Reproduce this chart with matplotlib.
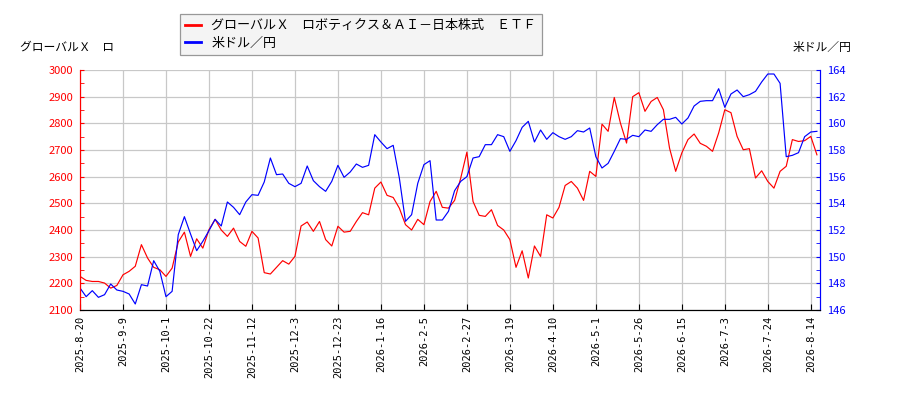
import matplotlib
matplotlib.use("Agg")
import matplotlib.pyplot as plt
import numpy as np
from matplotlib.ticker import MultipleLocator

plt.rcParams['font.family'] = ['Noto Sans CJK JP', 'DejaVu Sans']

# trading-day index of each sample (every 2nd day)
day_index = list(range(0, 241, 2))

etf_price = [
    2226, 2211, 2207, 2207, 2201, 2182, 2192, 2232, 2245, 2264,
    2345, 2295, 2260, 2251, 2226, 2257, 2355, 2392, 2301, 2367,
    2332, 2401, 2440, 2400, 2376, 2407, 2357, 2339, 2395, 2370,
    2240, 2235, 2260, 2285, 2272, 2301, 2415, 2430, 2395, 2432,
    2364, 2340, 2414, 2392, 2395, 2432, 2465, 2457, 2557, 2580,
    2530, 2522, 2482, 2420, 2400, 2440, 2420, 2507, 2545, 2485,
    2482, 2511, 2595, 2692, 2507, 2455, 2451, 2476, 2417, 2400,
    2364, 2260, 2322, 2220, 2340, 2301, 2457, 2445, 2485, 2567,
    2582, 2557, 2511, 2620, 2601, 2797, 2770, 2897, 2801, 2726,
    2900, 2915, 2845, 2882, 2897, 2851, 2707, 2620, 2689, 2739,
    2760, 2725, 2714, 2695, 2764, 2851, 2840, 2751, 2701, 2705,
    2595, 2622, 2582, 2557, 2620, 2639, 2739, 2732, 2735, 2751,
    2682,
]

usdjpy = [
    147.65, 147.0, 147.45, 146.95, 147.15, 147.95, 147.5, 147.4, 147.2, 146.45,
    147.9, 147.8, 149.7, 148.9, 147.0, 147.4, 151.65, 153.0, 151.7, 150.45,
    151.15, 151.95, 152.8, 152.3, 154.1, 153.7, 153.15, 154.1, 154.65, 154.6,
    155.6, 157.4, 156.15, 156.2, 155.5, 155.25, 155.5, 156.8, 155.7, 155.25,
    154.9, 155.65, 156.85, 155.95, 156.35, 156.95, 156.7, 156.85, 159.15, 158.6,
    158.1, 158.35, 155.9, 152.65, 153.15, 155.5, 156.9, 157.2, 152.75, 152.75,
    153.4, 154.95, 155.65, 156.0, 157.4, 157.5, 158.4, 158.4, 159.15, 159.0,
    157.9, 158.7, 159.7, 160.15, 158.6, 159.5, 158.8, 159.3, 159.0, 158.8,
    159.0, 159.45, 159.35, 159.65, 157.5, 156.65, 157.0, 157.9, 158.85, 158.8,
    159.1, 159.0, 159.5, 159.4, 159.9, 160.3, 160.3, 160.45, 159.95, 160.4,
    161.3, 161.65, 161.7, 161.7, 162.6, 161.2, 162.2, 162.5, 162.0, 162.15,
    162.4, 163.1, 163.7, 163.7, 163.0, 157.5, 157.6, 157.8, 159.0, 159.35,
    159.4,
]

tick_days = list(range(0, 239, 14))
tick_labels = [
    '2025-8-20', '2025-9-9', '2025-10-1', '2025-10-22', '2025-11-12',
    '2025-12-3', '2025-12-23', '2026-1-16', '2026-2-5', '2026-2-27',
    '2026-3-19', '2026-4-10', '2026-5-1', '2026-5-26', '2026-6-15',
    '2026-7-3', '2026-7-24', '2026-8-14',
]

fig = plt.figure(figsize=(9, 4), dpi=100)
ax = fig.add_axes([80 / 900, 90 / 400, 740 / 900, 240 / 400])
ax2 = ax.twinx()

l1, = ax.plot(day_index, etf_price, color='#ff0000', lw=0.85)
l2, = ax2.plot(day_index, usdjpy, color='#0000ff', lw=0.85)

ax.set_xlim(0, 241)
ax.set_ylim(2100, 3000)
ax2.set_ylim(146, 164)

ax.yaxis.set_major_locator(MultipleLocator(100))
ax.yaxis.set_minor_locator(MultipleLocator(50))
ax2.yaxis.set_major_locator(MultipleLocator(2))
ax2.yaxis.set_minor_locator(MultipleLocator(1))

ax.set_xticks(tick_days)
ax.set_xticklabels(tick_labels, rotation=90, family='DejaVu Sans Mono', fontsize=7.5)

ax.grid(True, color='#c8c8c8', lw=0.9)
ax.set_axisbelow(True)

ax.tick_params(axis='y', which='both', direction='in', colors='#ff0000',
               labelsize=8, length=3, pad=5)
ax.tick_params(axis='x', direction='in', length=4, pad=4, colors='black')
ax2.tick_params(axis='y', which='both', direction='in', colors='#0000ff',
                labelsize=8, length=3, pad=5)

for a in (ax, ax2):
    a.spines['top'].set_visible(False)
ax.spines['left'].set_color('#ff0000')
ax2.spines['left'].set_color('#ff0000')
ax2.spines['right'].set_color('#0000ff')
ax.spines['right'].set_color('#0000ff')
ax.spines['bottom'].set_color('black')
ax2.spines['bottom'].set_color('black')

fig.text(20 / 900, 1 - 47 / 400, 'グローバルＸ　ロ', fontsize=8.5, va='center', ha='left')
fig.text(851 / 900, 1 - 47 / 400, '米ドル／円', fontsize=8.5, va='center', ha='right')

leg = fig.legend([l1, l2],
                 ['グローバルＸ　ロボティクス＆ＡＩ－日本株式　ＥＴＦ', '米ドル／円'],
                 loc='upper left', bbox_to_anchor=(180 / 900, 1 - 14 / 400),
                 borderaxespad=0, fontsize=9.4, frameon=True, fancybox=False,
                 handlelength=1.2, handletextpad=0.8, borderpad=0.4,
                 labelspacing=0.35)
leg.get_frame().set_facecolor('#f2f2f2')
leg.get_frame().set_edgecolor('#808080')
leg.get_frame().set_linewidth(0.9)
for line in leg.get_lines():
    line.set_linewidth(2)

fig.savefig('out.png', dpi=100)
